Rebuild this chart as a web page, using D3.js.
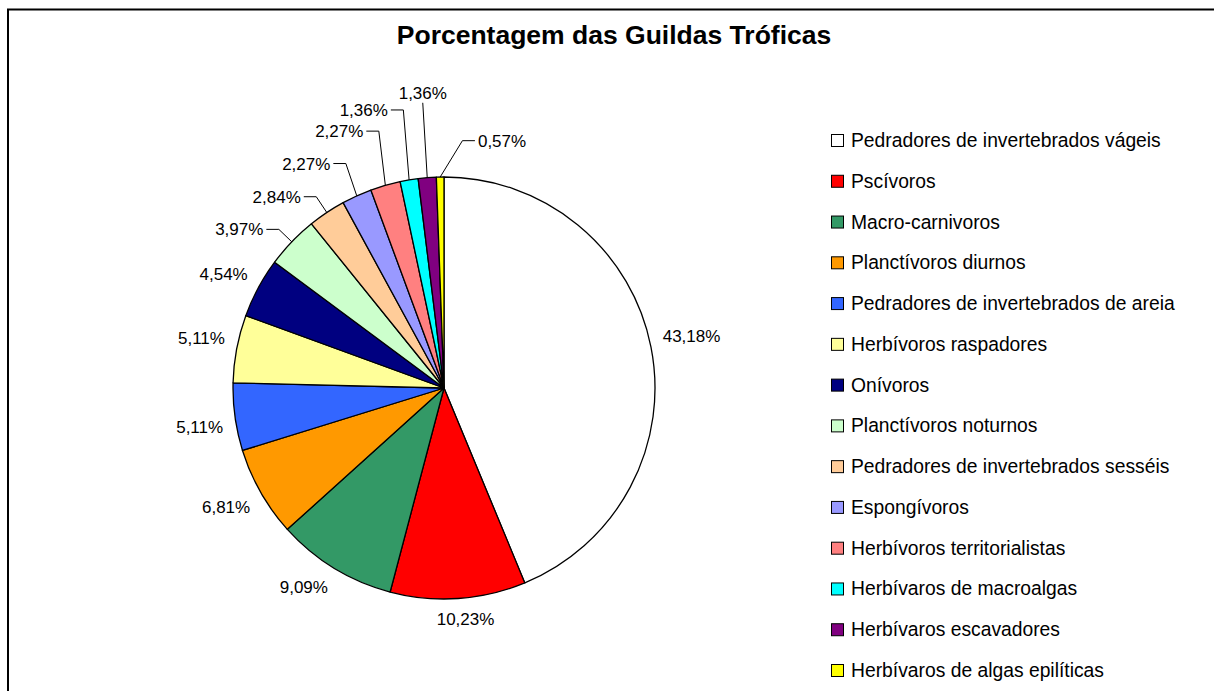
<!DOCTYPE html>
<html>
<head>
<meta charset="utf-8">
<script src="https://cdn.jsdelivr.net/npm/d3@7"></script>
<style>
  html, body { margin: 0; padding: 0; background: #fff; }
  svg { display: block; font-family: "Liberation Sans", Arial, sans-serif; }
</style>
</head>
<body>
<svg id="chart" width="1214" height="691"></svg>
<script>
// Trophic guilds and their share of the fish community (%)
const guilds = [
  "Pedradores de invertebrados vágeis",
  "Pscívoros",
  "Macro-carnivoros",
  "Planctívoros diurnos",
  "Pedradores de invertebrados de areia",
  "Herbívoros raspadores",
  "Onívoros",
  "Planctívoros noturnos",
  "Pedradores de invertebrados sesséis",
  "Espongívoros",
  "Herbívoros territorialistas",
  "Herbívaros de macroalgas",
  "Herbívaros escavadores",
  "Herbívaros de algas epilíticas"
];
const percentages = [43.18, 10.23, 9.09, 6.81, 5.11, 5.11, 4.54, 3.97, 2.84, 2.27, 2.27, 1.36, 1.36, 0.57];
const sliceColors = [
  "#FFFFFF", "#FF0000", "#339966", "#FF9900", "#3366FF", "#FFFF99", "#000080",
  "#CCFFCC", "#FFCC99", "#9999FF", "#FF8080", "#00FFFF", "#800080", "#FFFF00"
];
const chartTitle = "Porcentagem das Guildas Tróficas";

// Callout placement for the thin slices: leader elbow pushed out by `ext` px,
// optionally rotated by `dAng` degrees, text on the given side of the elbow.
const calloutLayout = [
  { index: 7,  ext: 18, dAng: 0,   side: "left" },
  { index: 8,  ext: 19, dAng: 0,   side: "left" },
  { index: 9,  ext: 34, dAng: 0.8, side: "left" },
  { index: 10, ext: 54, dAng: 1.9, side: "left" },
  { index: 11, ext: 70, dAng: 1.2, side: "left" },
  { index: 12, ext: 75, dAng: 0.3, side: "top" },
  { index: 13, ext: 37, dAng: 5.3, side: "right" }
];

const W = 1214, H = 691;
const cx = 444, cy = 388, R = 211;
const labelFont = 17, capH = labelFont * 0.716;
const fmt = v => d3.format(".2f")(v).replace(".", ",") + "%";

const svg = d3.select("#chart");
svg.append("rect").attr("width", W).attr("height", H).attr("fill", "#fff");

// chart area frame
svg.append("rect")
  .attr("x", 8).attr("y", 9.5).attr("width", W + 20).attr("height", H + 20)
  .attr("fill", "none").attr("stroke", "#000").attr("stroke-width", 2);

svg.append("text")
  .attr("x", 614).attr("y", 43.5)
  .attr("text-anchor", "middle")
  .attr("font-size", 26.5).attr("font-weight", "bold")
  .text(chartTitle);

const rows = guilds.map((g, i) => ({ name: g, value: percentages[i], color: sliceColors[i], i }));

const pie = d3.pie().sort(null).value(d => d.value);
const arcs = pie(rows);
const arc = d3.arc().innerRadius(0).outerRadius(R);

const g = svg.append("g").attr("transform", `translate(${cx},${cy})`);
g.selectAll("path.slice")
  .data(arcs)
  .join("path")
  .attr("class", "slice")
  .attr("d", arc)
  .attr("fill", d => d.data.color)
  .attr("stroke", "#000")
  .attr("stroke-width", 1.3)
  .attr("stroke-linejoin", "round");

const midAngle = d => (d.startAngle + d.endAngle) / 2;
const polar = (a, r) => [r * Math.sin(a), -r * Math.cos(a)];
const clamp = v => Math.max(-1, Math.min(1, v));

const calloutIdx = new Set(calloutLayout.map(c => c.index));

// Ordinary labels: box corner sits just outside the rim on the bisector
const gap = 12, boxH = 17;
const plain = arcs.filter(d => !calloutIdx.has(d.data.i));
g.selectAll("text.plain")
  .data(plain)
  .join("text")
  .attr("class", "plain")
  .attr("font-size", labelFont)
  .text(d => fmt(d.data.value))
  .each(function (d) {
    const a = midAngle(d);
    const w = this.getComputedTextLength();
    const [px, py] = polar(a, R + gap);
    const fx = clamp(Math.sin(a) / 0.3);
    const fy = clamp(-Math.cos(a) / 0.1);
    const mx = px + fx * w / 2;
    const my = py + fy * boxH / 2;
    d3.select(this)
      .attr("x", mx).attr("y", my + capH / 2)
      .attr("text-anchor", "middle");
  });

// Callout labels with leader lines
calloutLayout.forEach(c => {
  const d = arcs[c.index];
  const a = midAngle(d);
  const rim = polar(a, R);
  const elbow = polar(a + c.dAng * Math.PI / 180, R + c.ext);
  const label = fmt(d.data.value);
  let pts, tx, ty, anchor;
  if (c.side === "top") {
    pts = [rim, elbow];
    tx = elbow[0]; ty = elbow[1] - 4; anchor = "middle";
  } else {
    const dir = c.side === "left" ? -1 : 1;
    const end = [elbow[0] + dir * 12.5, elbow[1]];
    pts = [rim, elbow, end];
    tx = end[0] + dir * 3; ty = elbow[1] + capH / 2; anchor = dir < 0 ? "end" : "start";
  }
  g.append("path")
    .attr("d", d3.line()(pts))
    .attr("fill", "none")
    .attr("stroke", "#000")
    .attr("stroke-width", 1);
  g.append("text")
    .attr("x", tx).attr("y", ty)
    .attr("text-anchor", anchor)
    .attr("font-size", labelFont)
    .text(label);
});

// Legend
const legendY = d3.scalePoint().domain(d3.range(guilds.length)).range([140, 670]);
const legend = svg.append("g").selectAll("g")
  .data(rows)
  .join("g")
  .attr("transform", d => `translate(831,${legendY(d.i)})`);
legend.append("rect")
  .attr("x", 0.5).attr("y", -5.5)
  .attr("width", 12).attr("height", 12)
  .attr("fill", d => d.color)
  .attr("stroke", "#000").attr("stroke-width", 1);
legend.append("text")
  .attr("x", 20).attr("y", 7)
  .attr("font-size", 19.3)
  .text(d => d.name);
</script>
</body>
</html>
